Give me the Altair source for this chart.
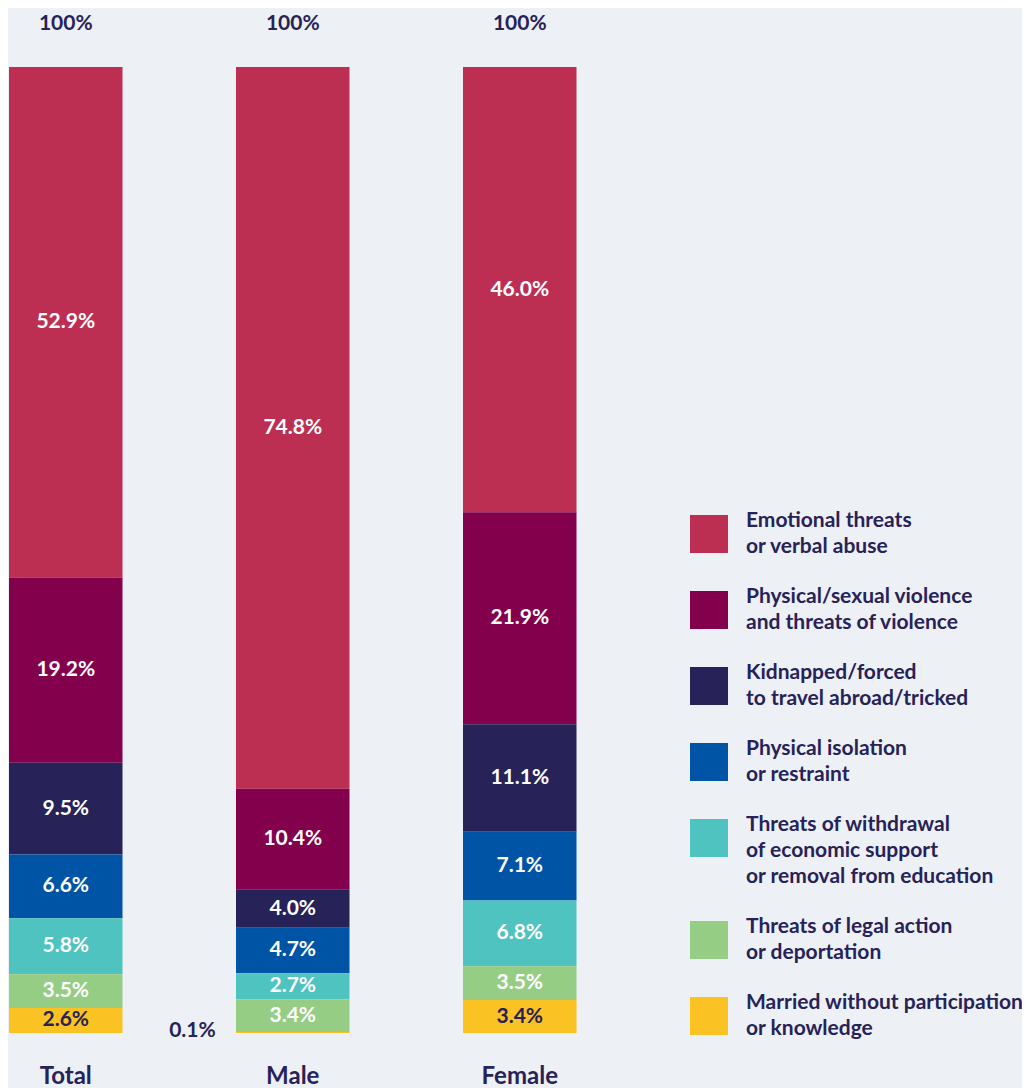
import altair as alt
import pandas as pd

groups = ["Total", "Male", "Female"]
categories = [
    "Emotional threats|or verbal abuse",
    "Physical/sexual violence|and threats of violence",
    "Kidnapped/forced|to travel abroad/tricked",
    "Physical isolation|or restraint",
    "Threats of withdrawal|of economic support|or removal from education",
    "Threats of legal action|or deportation",
    "Married without participation|or knowledge",
]
colors = ["#bc2f52", "#83004d", "#272257", "#0054a6", "#4fc3bf", "#96cd84", "#fbc223"]
total_vals = [52.9, 19.2, 9.5, 6.6, 5.8, 3.5, 2.6]
male_vals = [74.8, 10.4, 4.0, 4.7, 2.7, 3.4, 0.1]
female_vals = [46.0, 21.9, 11.1, 7.1, 6.8, 3.5, 3.4]
top_labels = ["100%", "100%", "100%"]

DARK = "#272257"
BG = "#edf0f5"
FONT = "Lato"

rows = []
for g, vals in zip(groups, [total_vals, male_vals, female_vals]):
    for i, (c, v) in enumerate(zip(categories, vals)):
        rows.append({"group": g, "cat": c, "order": i, "value": v})
df = pd.DataFrame(rows)
top_df = pd.DataFrame({"group": groups, "label": top_labels})

x_enc = alt.X(
    "group:N",
    sort=groups,
    scale=alt.Scale(paddingInner=0.5, paddingOuter=0),
    axis=alt.Axis(
        title=None, labelAngle=0, domain=False, ticks=False, tickSize=0,
        labelPadding=31, labelFontSize=24, labelFont=FONT, labelFontWeight="bold",
        labelColor=DARK,
    ),
)
y_scale = alt.Scale(domain=[0, 1])

base = alt.Chart(df).transform_stack(
    stack="value",
    groupby=["group"],
    sort=[alt.SortField("order", order="descending")],
    as_=["y0", "y1"],
    offset="normalize",
).transform_calculate(
    mid="(datum.y0 + datum.y1) / 2",
    label="format(datum.value, '.1f') + '%'",
    tcolor=f"datum.order == 6 ? '{DARK}' : 'white'",
)

bars = base.mark_bar(strokeWidth=0).encode(
    x=x_enc,
    y=alt.Y("y0:Q", scale=y_scale, axis=None),
    y2="y1:Q",
    color=alt.Color(
        "cat:N",
        scale=alt.Scale(domain=categories, range=colors),
        legend=alt.Legend(
            title=None, orient="none", legendX=681, legendY=448,
            symbolType="square", symbolSize=1444, symbolStrokeWidth=0,
            symbolOpacity=1, labelFont=FONT, labelFontSize=21,
            labelFontWeight="bold", labelColor=DARK, labelLimit=400,
            labelOffset=18, rowPadding=29, padding=0,
            labelBaseline="line-bottom",
            labelExpr="split(datum.label, '|')",
        ),
    ),
)

inside = base.transform_filter("datum.value >= 1").mark_text(
    font=FONT, fontSize=21, fontWeight="bold", baseline="middle", align="center"
).encode(
    x=alt.X("group:N", sort=groups),
    y=alt.Y("mid:Q", scale=y_scale),
    text="label:N",
    color=alt.Color("tcolor:N", scale=None),
)

outside = base.transform_filter("datum.value < 1").mark_text(
    font=FONT, fontSize=21, fontWeight="bold", baseline="middle", align="right",
    dx=-77, dy=-2, color=DARK,
).encode(
    x=alt.X("group:N", sort=groups),
    y=alt.Y("mid:Q", scale=y_scale),
    text="label:N",
)

tops = alt.Chart(top_df).transform_calculate(top="1").mark_text(
    font=FONT, fontSize=21, fontWeight="bold", baseline="middle", align="center",
    dy=-43, color=DARK,
).encode(
    x=alt.X("group:N", sort=groups),
    y=alt.Y("top:Q", scale=y_scale),
    text="label:N",
)

chart = alt.layer(bars, inside, outside, tops).properties(
    width=567.5,
    height=966,
    autosize=alt.AutoSizeParams(type="none"),
    padding={"left": 1, "top": 59, "right": 445, "bottom": 55},
    background=BG,
).configure(
    style={"guide-label": {"lineHeight": 26}}
).configure_view(strokeWidth=0)

chart.save("out.html", embed_options={"renderer": "svg", "actions": False})
